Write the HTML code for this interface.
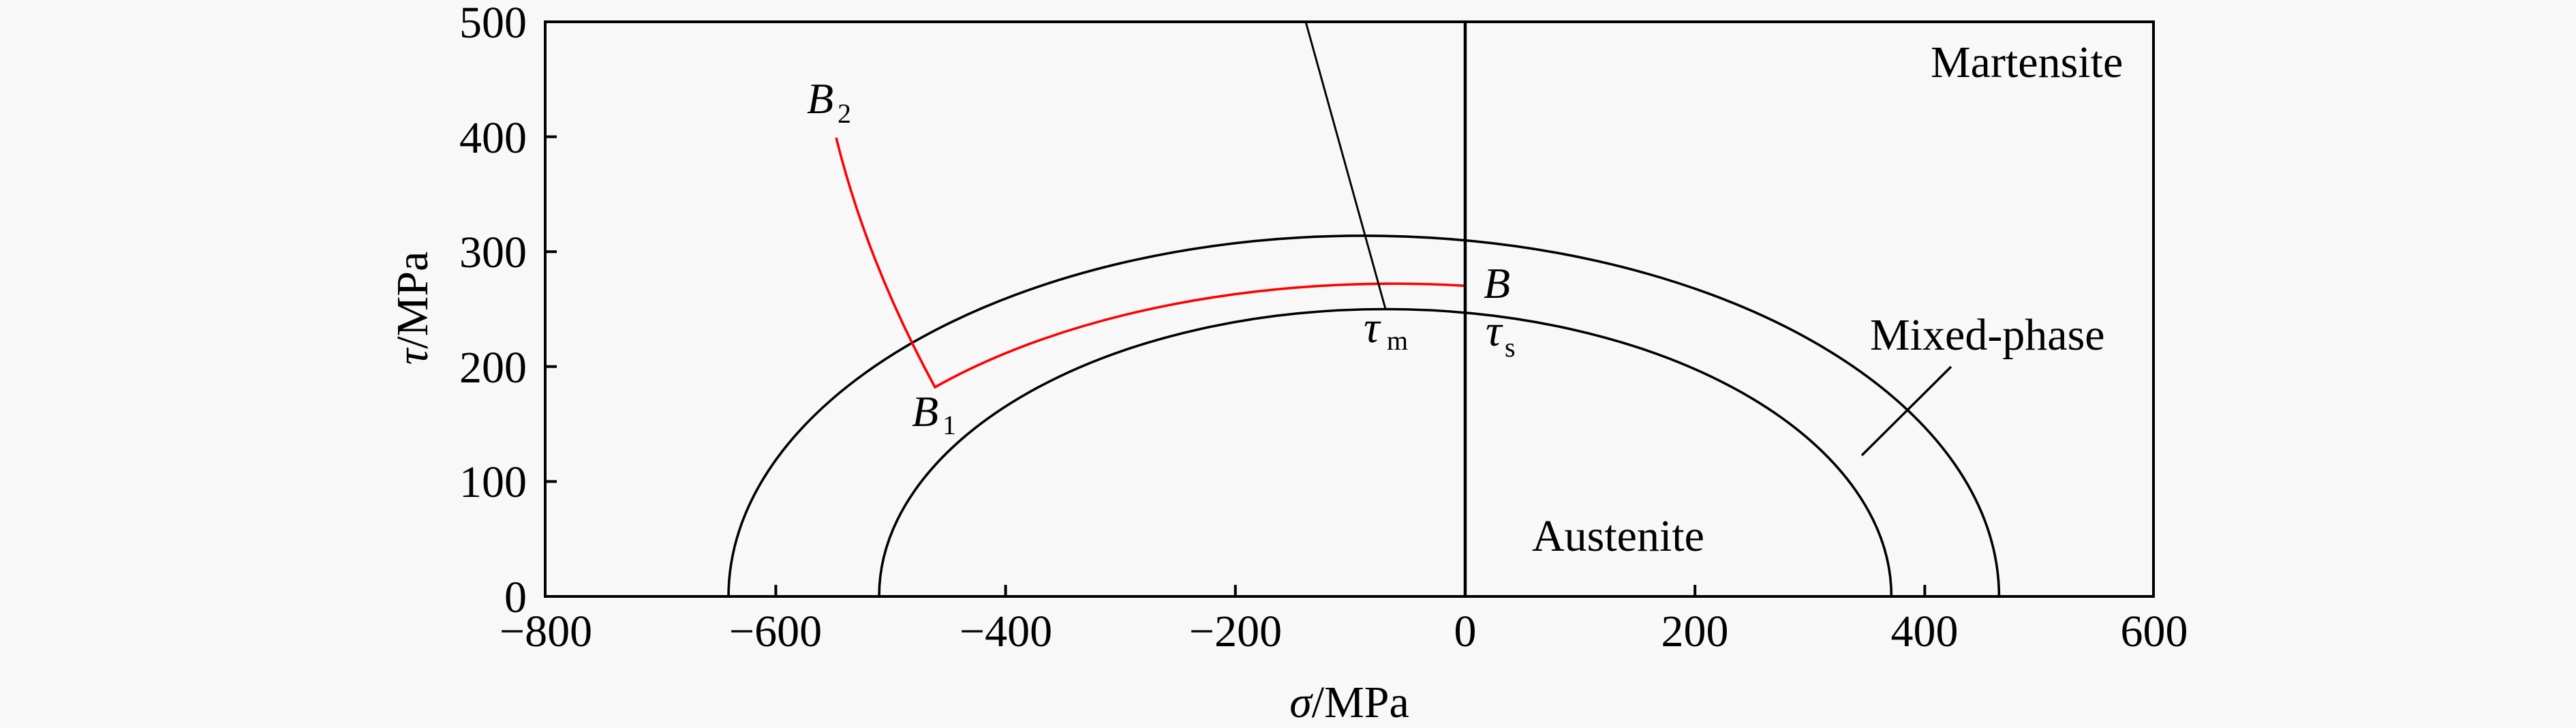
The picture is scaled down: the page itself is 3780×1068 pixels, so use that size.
<!DOCTYPE html>
<html>
<head>
<meta charset="utf-8">
<style>
  html, body { margin: 0; padding: 0; background: #f8f8f8; }
  svg { display: block; }
  text { font-family: "Liberation Serif", "Times New Roman", serif; fill: #000; }
</style>
</head>
<body>
<svg width="3780" height="1068" viewBox="0 0 3780 1068" xmlns="http://www.w3.org/2000/svg">
  <rect x="0" y="0" width="3780" height="1068" fill="#f8f8f8"/>

  <!-- curves -->
  <g fill="none" stroke="#000" stroke-width="3.6">
    <!-- outer ellipse -->
    <path d="M1069,875 A932.2,529.4 0 0 1 2933.4,875"/>
    <!-- inner ellipse -->
    <path d="M1290,875 A742.7,421.5 0 0 1 2775.4,875"/>
  </g>

  <!-- red path -->
  <g fill="none" stroke="#ff0000" stroke-width="3.6" stroke-linejoin="miter">
    <path d="M1227,202 Q1272,384 1372,568 A905.2,458.5 0 0 1 2149.5,419.2"/>
  </g>

  <!-- slanted line to tau_m -->
  <line x1="1916" y1="32" x2="2033" y2="453" stroke="#000" stroke-width="2.9"/>
  <!-- vertical line sigma=0 -->
  <line x1="2150" y1="32" x2="2150" y2="875" stroke="#000" stroke-width="4.5"/>
  <!-- leader for mixed-phase -->
  <line x1="2732" y1="668" x2="2863" y2="538" stroke="#000" stroke-width="3.4"/>

  <!-- frame -->
  <rect x="800" y="32" width="2360" height="843" fill="none" stroke="#000" stroke-width="4"/>

  <!-- ticks -->
  <g stroke="#000" stroke-width="4">
    <line x1="800" y1="706.4" x2="817" y2="706.4"/>
    <line x1="800" y1="537.8" x2="817" y2="537.8"/>
    <line x1="800" y1="369.2" x2="817" y2="369.2"/>
    <line x1="800" y1="200.6" x2="817" y2="200.6"/>
    <line x1="1138.4" y1="875" x2="1138.4" y2="858"/>
    <line x1="1475.6" y1="875" x2="1475.6" y2="858"/>
    <line x1="1812.8" y1="875" x2="1812.8" y2="858"/>
    <line x1="2487.2" y1="875" x2="2487.2" y2="858"/>
    <line x1="2824.4" y1="875" x2="2824.4" y2="858"/>
  </g>

  <!-- y tick labels -->
  <g font-size="66" text-anchor="end">
    <text x="773" y="55">500</text>
    <text x="773" y="224">400</text>
    <text x="773" y="392">300</text>
    <text x="773" y="561">200</text>
    <text x="773" y="729">100</text>
    <text x="773" y="898">0</text>
  </g>

  <!-- x tick labels -->
  <g font-size="66" text-anchor="middle">
    <text x="801" y="948">−800</text>
    <text x="1138" y="948">−600</text>
    <text x="1476" y="948">−400</text>
    <text x="1813" y="948">−200</text>
    <text x="2150" y="948">0</text>
    <text x="2487" y="948">200</text>
    <text x="2824" y="948">400</text>
    <text x="3161" y="948">600</text>
  </g>

  <!-- axis titles -->
  <text x="1980" y="1052" font-size="66" text-anchor="middle"><tspan font-style="italic">σ</tspan>/MPa</text>
  <text transform="translate(627,452) rotate(-90)" font-size="66" text-anchor="middle"><tspan font-style="italic">τ</tspan>/MPa</text>

  <!-- region labels -->
  <text x="2833" y="113" font-size="66">Martensite</text>
  <text x="2744" y="513" font-size="66">Mixed-phase</text>
  <text x="2248" y="808" font-size="66">Austenite</text>

  <!-- point labels -->
  <text x="1184" y="166" font-size="64" font-style="italic">B</text>
  <text x="1229" y="180" font-size="40">2</text>

  <text x="1338" y="625" font-size="64" font-style="italic">B</text>
  <text x="1383" y="637" font-size="40">1</text>

  <text x="2177" y="437" font-size="64" font-style="italic">B</text>

  <text x="2001" y="502" font-size="66" font-style="italic">τ</text>
  <text x="2035" y="513" font-size="40">m</text>

  <text x="2180" y="507" font-size="66" font-style="italic">τ</text>
  <text x="2208" y="523" font-size="40">s</text>
</svg>
</body>
</html>
